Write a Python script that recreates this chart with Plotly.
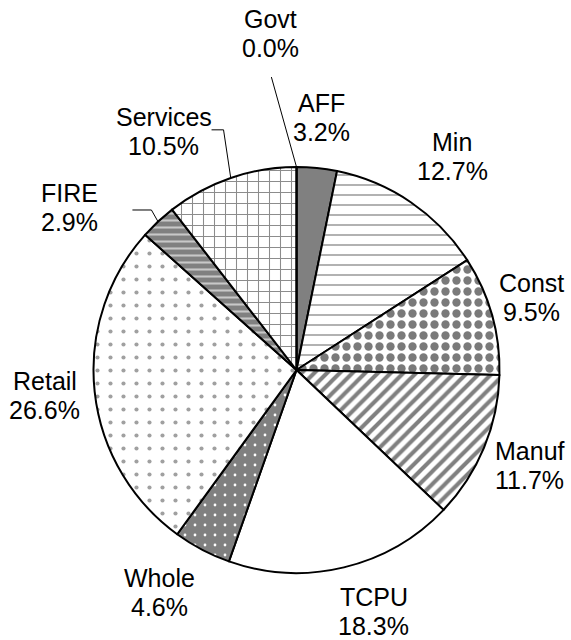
import math
import plotly.graph_objects as go

# ---- data ----
sectors = ["AFF", "Min", "Const", "Manuf", "TCPU", "Whole", "Retail", "FIRE", "Services", "Govt"]
shares = [3.2, 12.7, 9.5, 11.7, 18.3, 4.6, 26.6, 2.9, 10.5, 0.0]

# ---- styles ----
base_colors = ["#808080", "#ffffff", "#ffffff", "#ffffff", "#ffffff", "#808080", "#ffffff", "#808080", "#ffffff", "#ffffff"]
pat_shape = ["", "-", ".", "/", "", ".", ".", "-", "+", ""]
pat_fg = ["#808080", "#999999", "#7a7a7a", "#808080", "#ffffff", "#ffffff", "#a0a0a0", "#c8c8c8", "#8c8c8c", "#ffffff"]
pat_bg = ["#808080", "#ffffff", "#ffffff", "#ffffff", "#ffffff", "#808080", "#ffffff", "#808080", "#ffffff", "#ffffff"]
pat_size = [8, 10, 11, 9, 8, 10, 13, 7, 11, 8]
pat_sol = [0.3, 0.15, 0.45, 0.45, 0.3, 0.06, 0.08, 0.3, 0.18, 0.3]

# label placement: (radius px from centre, angle nudge deg)
label_place = {
    "AFF": (254, 0.0), "Min": (264, 1.8), "Const": (246, -1.6), "Manuf": (252, -0.3),
    "TCPU": (254, -4.2), "Whole": (261, 4.0), "Retail": (253, 0.4),
    "FIRE": (279, None), "Services": (273, None), "Govt": (337, None),
}
# absolute label angles for displaced labels
label_angle = {"FIRE": 305.7, "Services": 330.9, "Govt": 355.6}
# leader knee (angle, radius) and horizontal tail (px)
leaders = {"Govt": (355.1, 294, 0), "Services": (343.1, 251, -12), "FIRE": (317.8, 216, -19)}

W, H = 571, 640
CX, CY, R = 296.5, 370.0, 203.0
FONT = dict(family="Liberation Sans, Arial", size=25, color="black")
LINE_GAP = 29.0

def to_paper(px, py):
    return px / W, (H - py) / H

def polar(theta_deg, r):
    t = math.radians(theta_deg)
    return CX + r * math.sin(t), CY - r * math.cos(t)

fig = go.Figure(go.Pie(
    labels=sectors,
    values=shares,
    sort=False,
    direction="clockwise",
    rotation=0,
    textinfo="none",
    hoverinfo="label+percent",
    showlegend=False,
    marker=dict(
        colors=base_colors,
        line=dict(color="black", width=2),
        pattern=dict(shape=pat_shape, fgcolor=pat_fg, bgcolor=pat_bg,
                     size=pat_size, solidity=pat_sol, fillmode="replace"),
    ),
    domain=dict(x=[(CX - R) / W, (CX + R) / W], y=[(H - CY - R) / H, (H - CY + R) / H]),
))

total = sum(shares)
cum = 0.0
annotations = []
shapes = []
for name, v in zip(sectors, shares):
    mid = (cum + v / 2) / total * 360.0
    cum += v
    r, nudge = label_place[name]
    ang = label_angle[name] if nudge is None else mid + nudge
    lx, ly = polar(ang, r)
    for txt, dy in ((name, -LINE_GAP / 2), (f"{v / total * 100:.1f}%", LINE_GAP / 2)):
        px, py = to_paper(lx, ly + dy)
        annotations.append(dict(
            x=px, y=py, xref="paper", yref="paper", showarrow=False,
            text=txt, xanchor="center", yanchor="middle", font=FONT,
        ))
    if name in leaders:
        ka, kr, tail = leaders[name]
        ex, ey = polar(mid if name != "Govt" else 360.0, R)
        kx, ky = polar(ka, kr)
        pts = [(ex, ey), (kx, ky)]
        if tail:
            pts.append((kx + tail, ky))
        path = "M " + " L ".join(f"{to_paper(a, b)[0]},{to_paper(a, b)[1]}" for a, b in pts)
        shapes.append(dict(type="path", path=path, xref="paper", yref="paper",
                           line=dict(color="black", width=1)))

fig.update_layout(
    width=W, height=H,
    margin=dict(l=0, r=0, t=0, b=0),
    paper_bgcolor="white", plot_bgcolor="white",
    annotations=annotations, shapes=shapes,
)
fig.write_html("out.html", config={"displayModeBar": False},
               post_script="document.body.style.margin='0';document.body.style.overflow='hidden';")
